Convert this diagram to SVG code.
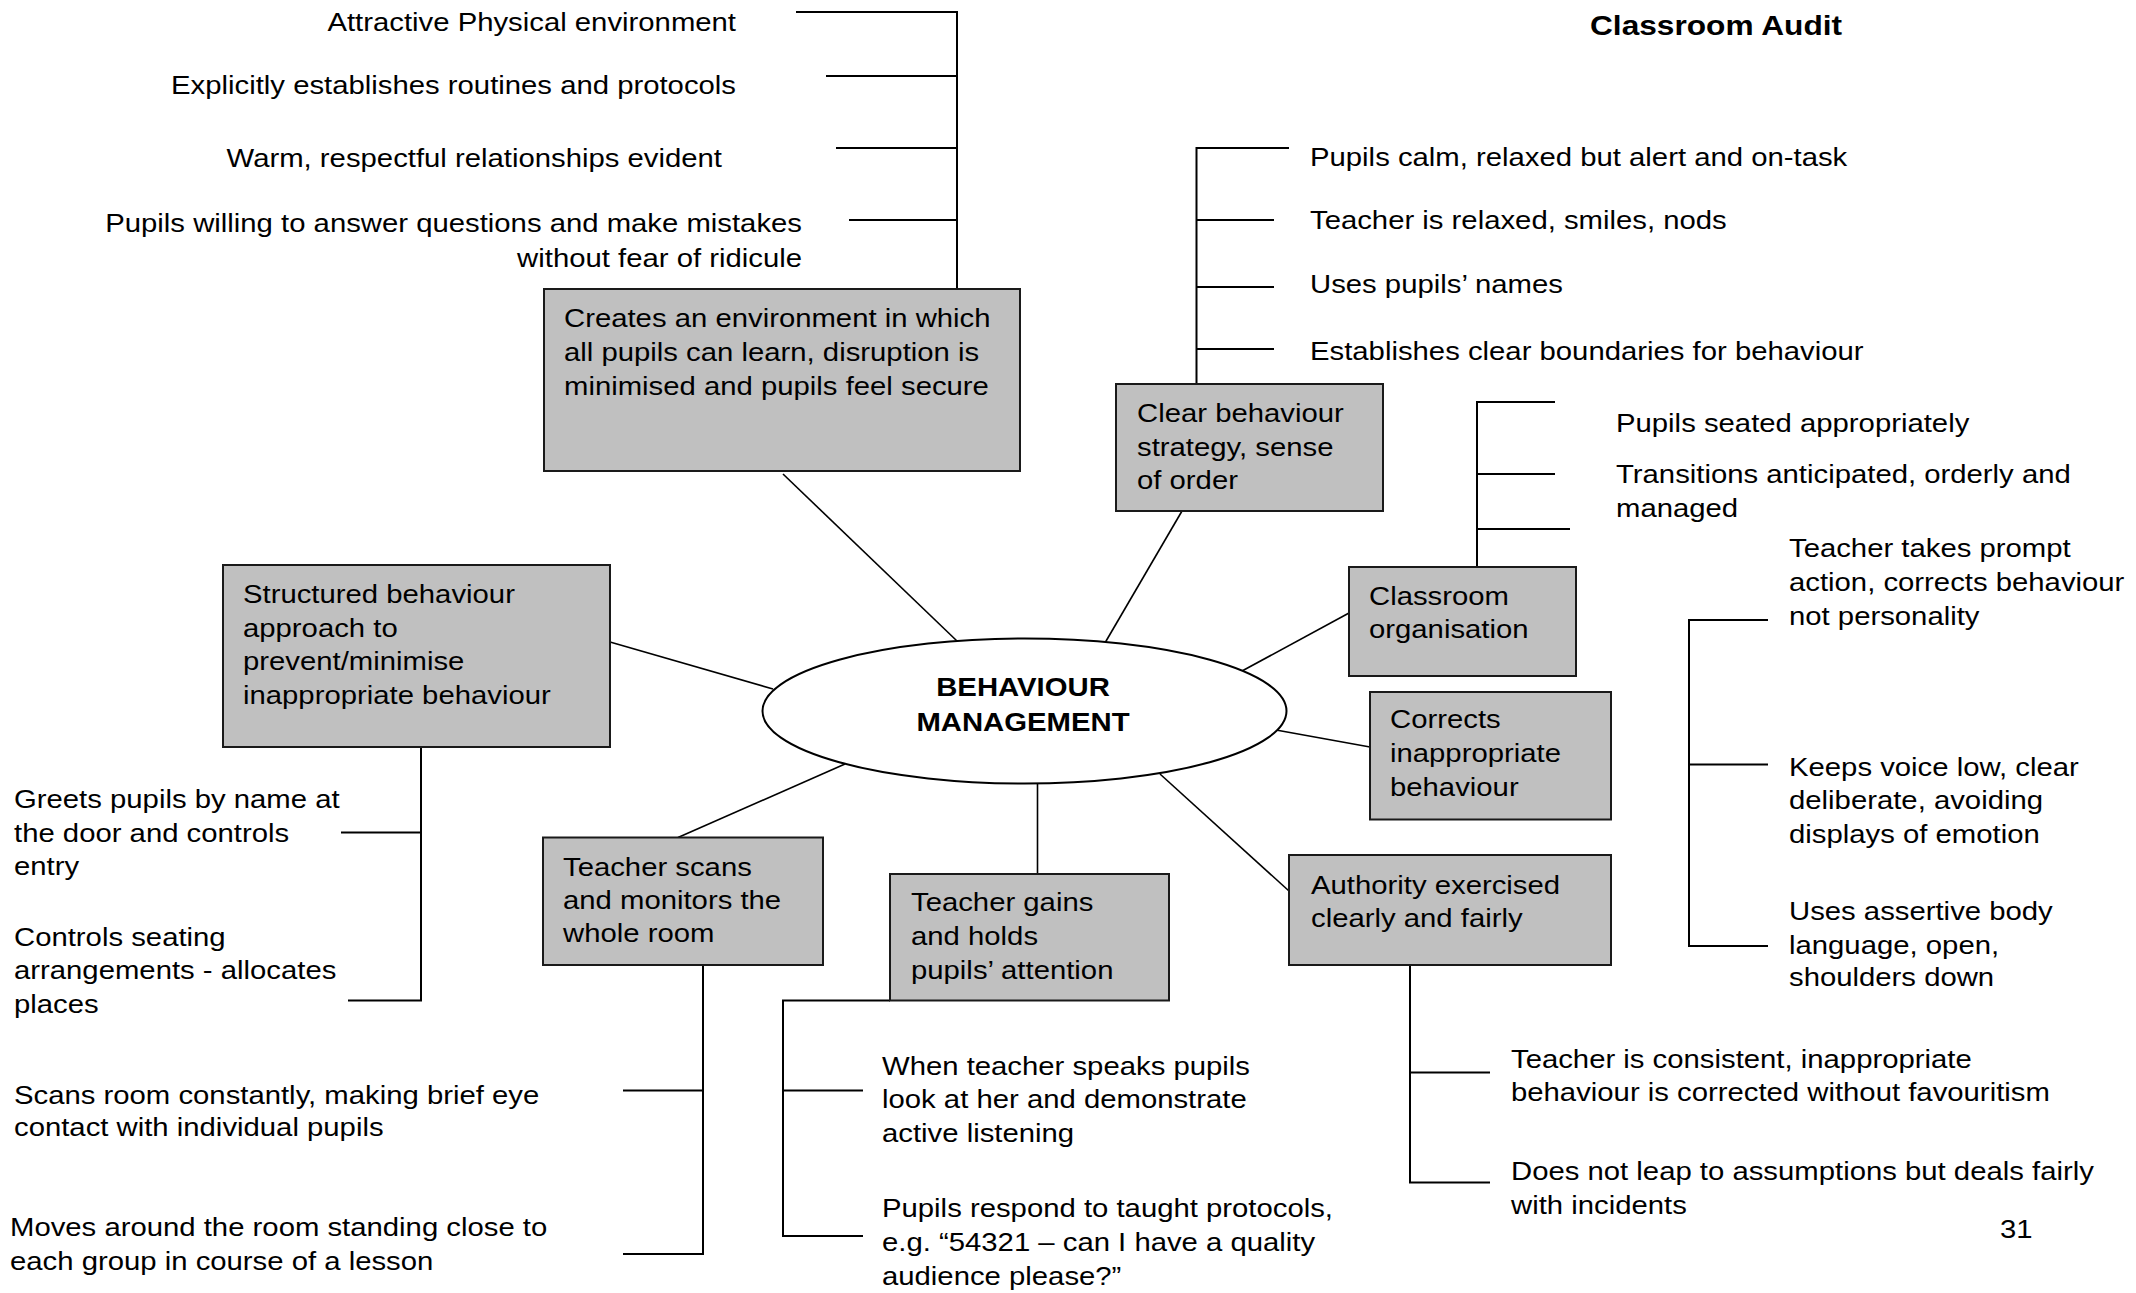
<svg xmlns="http://www.w3.org/2000/svg" width="2136" height="1293" viewBox="0 0 2136 1293">
  <style>
    .bg { fill: #ffffff; }
    .box { fill: #c0c0c0; stroke: #1a1a1a; stroke-width: 2; }
    .hub { fill: #ffffff; stroke: #000000; stroke-width: 2; }
    .br { fill: none; stroke: #000000; stroke-width: 2; }
    .cn { fill: none; stroke: #000000; stroke-width: 1.6; }
    .t { font-family: "Liberation Sans", Arial, sans-serif; font-size: 26px; fill: #000000; }
    .b { font-weight: bold; }
    .end { text-anchor: end; }
    .mid { text-anchor: middle; }
  </style>

  <rect class="bg" x="0" y="0" width="2136" height="1293"/>

  <!-- heading -->
  <text class="t b" style="font-size:28.5px" transform="translate(1590,35) scale(1.111,1)">Classroom Audit</text>

  <!-- connectors: spokes from the hub and the bracket lines to each list -->
  <g id="connectors">
    <line class="cn" x1="783" y1="474" x2="957" y2="641"/>
    <line class="cn" x1="610" y1="642" x2="773" y2="689"/>
    <line class="cn" x1="1182" y1="511" x2="1105.5" y2="642"/>
    <line class="cn" x1="1349" y1="613" x2="1242" y2="671"/>
    <line class="cn" x1="1276" y1="730" x2="1370" y2="747"/>
    <line class="cn" x1="1160" y1="774" x2="1289" y2="891"/>
    <line class="cn" x1="1037.5" y1="783" x2="1037.5" y2="874"/>
    <line class="cn" x1="678" y1="837.5" x2="845" y2="764"/>

    <!-- environment list -->
    <path class="br" d="M796,12 H957 V289 M826,76 H957 M836,148 H957 M849,220 H957"/>
    <!-- behaviour strategy list -->
    <path class="br" d="M1289,148 H1196.5 V384 M1196.5,220 H1274 M1196.5,287 H1274 M1196.5,349 H1274"/>
    <!-- classroom organisation list -->
    <path class="br" d="M1555,402 H1477 V567 M1477,474 H1555 M1477,529 H1570"/>
    <!-- assertive manner list -->
    <path class="br" d="M1768,620 H1689 V946 H1768 M1689,764.5 H1768"/>
    <!-- authority list -->
    <path class="br" d="M1410,965 V1182.5 H1490 M1410,1072.5 H1490"/>
    <!-- attention list -->
    <path class="br" d="M890,1000.5 H783 V1236 H863 M783,1090.5 H863"/>
    <!-- scanning list -->
    <path class="br" d="M703,965 V1254 H623 M703,1090.5 H623"/>
    <!-- structured approach list -->
    <path class="br" d="M421,747 V1000.5 H348 M421,832.5 H341"/>
  </g>

  <!-- central hub -->
  <g id="hub">
    <ellipse class="hub" cx="1024.5" cy="711" rx="262" ry="72.5"/>
    <text class="t b mid" transform="translate(1023,696) scale(1.127,1)"><tspan x="0">BEHAVIOUR</tspan><tspan x="0" dy="35">MANAGEMENT</tspan></text>
  </g>

  <g id="node-environment">
    <rect class="box" x="544" y="289" width="476" height="182"/>
    <text class="t" transform="translate(564,327) scale(1.127,1)"><tspan x="0">Creates an environment in which</tspan><tspan x="0" dy="34">all pupils can learn, disruption is</tspan><tspan x="0" dy="34">minimised and pupils feel secure</tspan></text>
  </g>

  <g id="node-structured">
    <rect class="box" x="223" y="565" width="387" height="182"/>
    <text class="t" transform="translate(243,603) scale(1.127,1)"><tspan x="0">Structured behaviour</tspan><tspan x="0" dy="33.7">approach to</tspan><tspan x="0" dy="33.7">prevent/minimise</tspan><tspan x="0" dy="33.7">inappropriate behaviour</tspan></text>
  </g>

  <g id="node-strategy">
    <rect class="box" x="1116" y="384" width="267" height="127"/>
    <text class="t" transform="translate(1137,422) scale(1.127,1)"><tspan x="0">Clear behaviour</tspan><tspan x="0" dy="33.7">strategy, sense</tspan><tspan x="0" dy="33.7">of order</tspan></text>
  </g>

  <g id="node-organisation">
    <rect class="box" x="1349" y="567" width="227" height="109"/>
    <text class="t" transform="translate(1369,605) scale(1.127,1)"><tspan x="0">Classroom</tspan><tspan x="0" dy="33.5">organisation</tspan></text>
  </g>

  <g id="node-corrects">
    <rect class="box" x="1370" y="692" width="241" height="127.5"/>
    <text class="t" transform="translate(1390,728) scale(1.127,1)"><tspan x="0">Corrects</tspan><tspan x="0" dy="34">inappropriate</tspan><tspan x="0" dy="34.5">behaviour</tspan></text>
  </g>

  <g id="node-authority">
    <rect class="box" x="1289" y="855" width="322" height="110"/>
    <text class="t" transform="translate(1311,893.5) scale(1.127,1)"><tspan x="0">Authority exercised</tspan><tspan x="0" dy="34">clearly and fairly</tspan></text>
  </g>

  <g id="node-attention">
    <rect class="box" x="890" y="874" width="279" height="126.5"/>
    <text class="t" transform="translate(911,911) scale(1.127,1)"><tspan x="0">Teacher gains</tspan><tspan x="0" dy="34">and holds</tspan><tspan x="0" dy="34">pupils’ attention</tspan></text>
  </g>

  <g id="node-scans">
    <rect class="box" x="543" y="837.5" width="280" height="127.5"/>
    <text class="t" transform="translate(563,875.5) scale(1.127,1)"><tspan x="0">Teacher scans</tspan><tspan x="0" dy="34">and monitors the</tspan><tspan x="0" dy="33">whole room</tspan></text>
  </g>

  <!-- list items: environment -->
  <g id="items-environment">
    <text class="t end" transform="translate(736,31) scale(1.127,1)">Attractive Physical environment</text>
    <text class="t end" transform="translate(736,94) scale(1.127,1)">Explicitly establishes routines and protocols</text>
    <text class="t end" transform="translate(722,167) scale(1.127,1)">Warm, respectful relationships evident</text>
    <text class="t end" transform="translate(802,232) scale(1.127,1)"><tspan x="0">Pupils willing to answer questions and make mistakes</tspan><tspan x="0" dy="35">without fear of ridicule</tspan></text>
  </g>

  <!-- list items: behaviour strategy -->
  <g id="items-strategy">
    <text class="t" transform="translate(1310,166) scale(1.127,1)">Pupils calm, relaxed but alert and on-task</text>
    <text class="t" transform="translate(1310,229) scale(1.127,1)">Teacher is relaxed, smiles, nods</text>
    <text class="t" transform="translate(1310,293) scale(1.127,1)">Uses pupils’ names</text>
    <text class="t" transform="translate(1310,360) scale(1.127,1)">Establishes clear boundaries for behaviour</text>
  </g>

  <!-- list items: organisation -->
  <g id="items-organisation">
    <text class="t" transform="translate(1616,432) scale(1.127,1)">Pupils seated appropriately</text>
    <text class="t" transform="translate(1616,483) scale(1.127,1)"><tspan x="0">Transitions anticipated, orderly and</tspan><tspan x="0" dy="34">managed</tspan></text>
  </g>

  <!-- list items: assertive manner -->
  <g id="items-manner">
    <text class="t" transform="translate(1789,557) scale(1.127,1)"><tspan x="0">Teacher takes prompt</tspan><tspan x="0" dy="34.5">action, corrects behaviour</tspan><tspan x="0" dy="33.5">not personality</tspan></text>
    <text class="t" transform="translate(1789,775.5) scale(1.127,1)"><tspan x="0">Keeps voice low, clear</tspan><tspan x="0" dy="34">deliberate, avoiding</tspan><tspan x="0" dy="34">displays of emotion</tspan></text>
    <text class="t" transform="translate(1789,920) scale(1.127,1)"><tspan x="0">Uses assertive body</tspan><tspan x="0" dy="34">language, open,</tspan><tspan x="0" dy="32.5">shoulders down</tspan></text>
  </g>

  <!-- list items: authority -->
  <g id="items-authority">
    <text class="t" transform="translate(1511,1067.5) scale(1.127,1)"><tspan x="0">Teacher is consistent, inappropriate</tspan><tspan x="0" dy="34">behaviour is corrected without favouritism</tspan></text>
    <text class="t" transform="translate(1511,1180) scale(1.127,1)"><tspan x="0">Does not leap to assumptions but deals fairly</tspan><tspan x="0" dy="34">with incidents</tspan></text>
  </g>

  <!-- list items: attention -->
  <g id="items-attention">
    <text class="t" transform="translate(882,1074.5) scale(1.127,1)"><tspan x="0">When teacher speaks pupils</tspan><tspan x="0" dy="34">look at her and demonstrate</tspan><tspan x="0" dy="34">active listening</tspan></text>
    <text class="t" transform="translate(882,1217) scale(1.127,1)"><tspan x="0">Pupils respond to taught protocols,</tspan><tspan x="0" dy="34">e.g. “54321 – can I have a quality</tspan><tspan x="0" dy="34">audience please?”</tspan></text>
  </g>

  <!-- list items: scanning -->
  <g id="items-scans">
    <text class="t" transform="translate(14,1103.5) scale(1.127,1)"><tspan x="0">Scans room constantly, making brief eye</tspan><tspan x="0" dy="33">contact with individual pupils</tspan></text>
    <text class="t" transform="translate(10,1236) scale(1.127,1)"><tspan x="0">Moves around the room standing close to</tspan><tspan x="0" dy="34">each group in course of a lesson</tspan></text>
  </g>

  <!-- list items: structured approach -->
  <g id="items-structured">
    <text class="t" transform="translate(14,807.5) scale(1.127,1)"><tspan x="0">Greets pupils by name at</tspan><tspan x="0" dy="35">the door and controls</tspan><tspan x="0" dy="32.5">entry</tspan></text>
    <text class="t" transform="translate(14,946) scale(1.127,1)"><tspan x="0">Controls seating</tspan><tspan x="0" dy="33">arrangements - allocates</tspan><tspan x="0" dy="34">places</tspan></text>
  </g>

  <!-- page number -->
  <text class="t" transform="translate(2000,1237.5) scale(1.127,1)">31</text>
</svg>
